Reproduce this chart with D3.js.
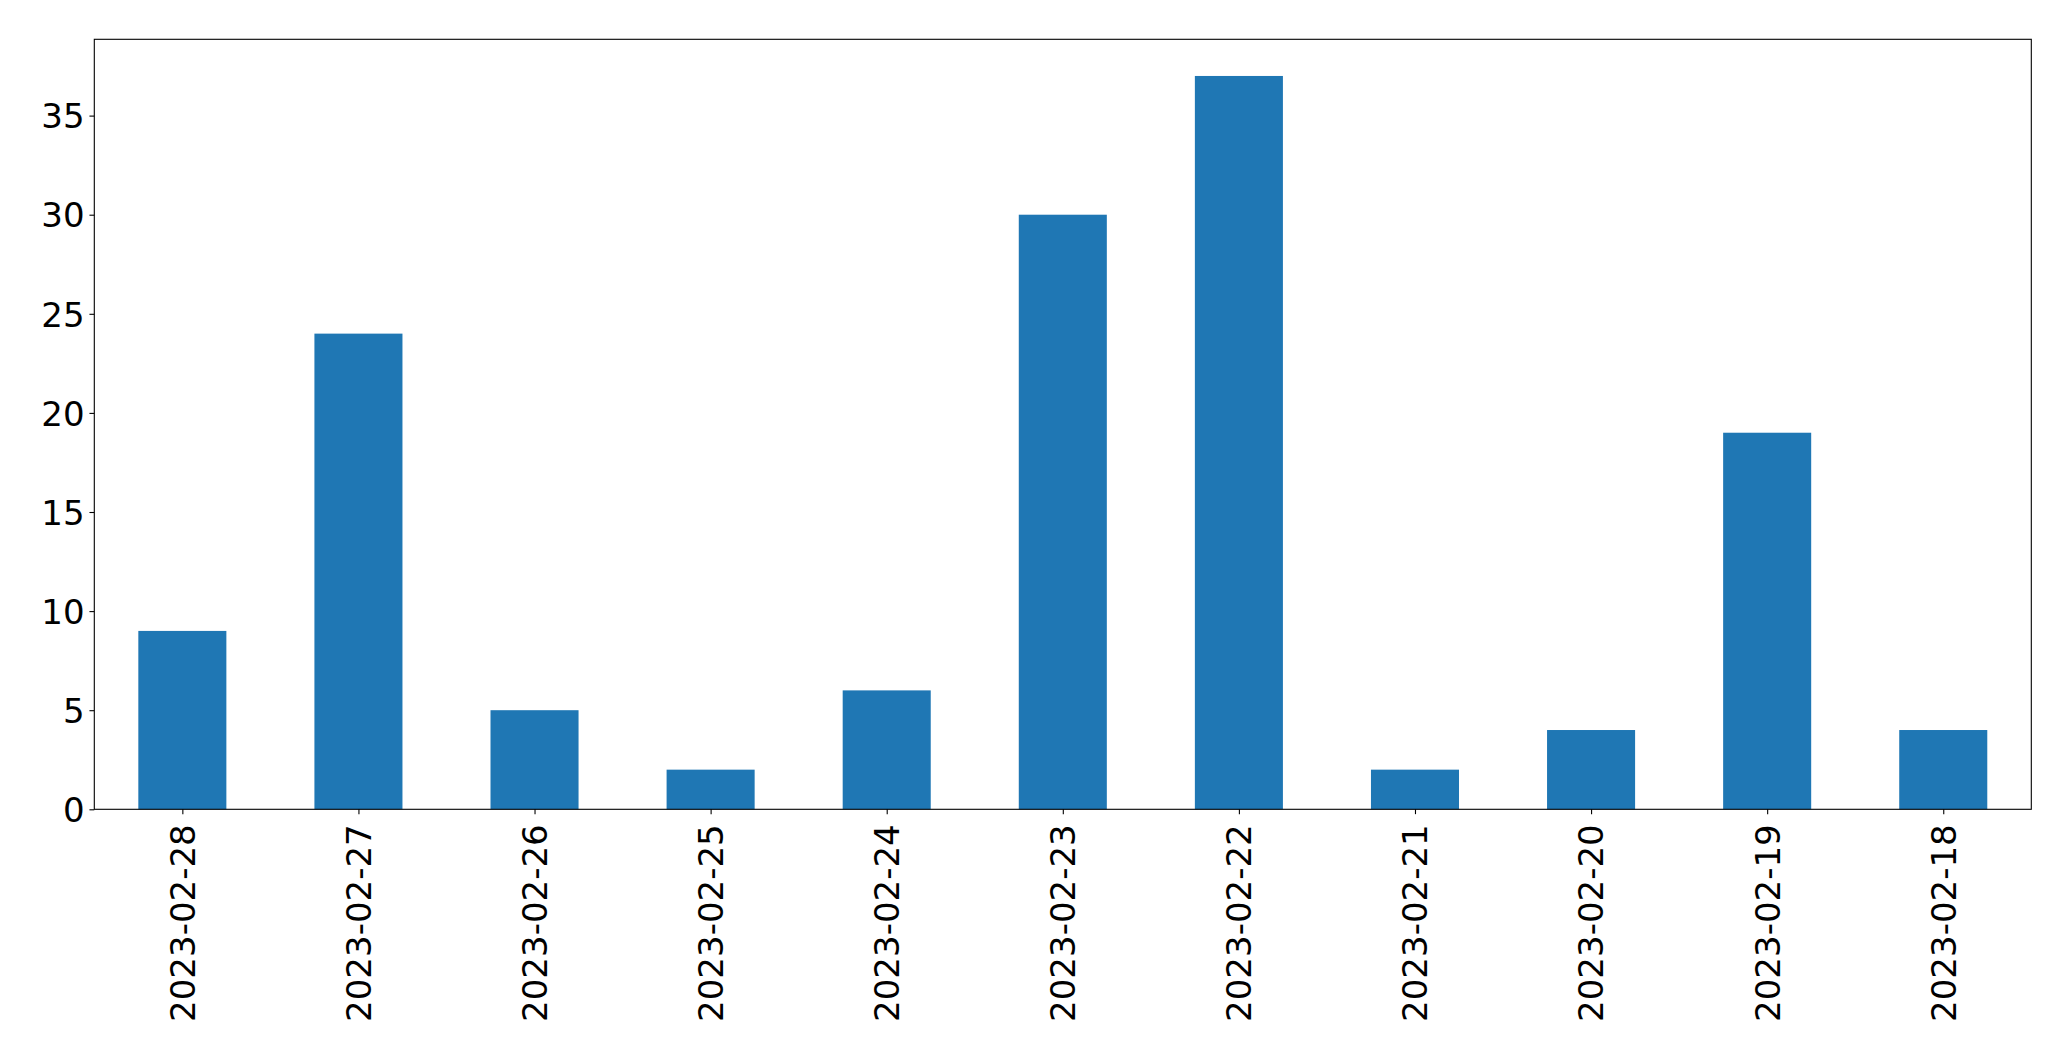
<!DOCTYPE html>
<html><head><meta charset="utf-8">
<script src="https://cdn.jsdelivr.net/npm/d3@7"></script>
<style>body{margin:0;background:#fff}svg{display:block}</style>
</head><body>
<script>
const categories = ["2023-02-28","2023-02-27","2023-02-26","2023-02-25","2023-02-24","2023-02-23","2023-02-22","2023-02-21","2023-02-20","2023-02-19","2023-02-18"];
const values = [9, 24, 5, 2, 6, 30, 37, 2, 4, 19, 4];
const yTicks = [0, 5, 10, 15, 20, 25, 30, 35];

const W = 2071, H = 1061;
const m = {left: 94.3, right: 2031.3, top: 39.3, bottom: 809.3};
const svg = d3.select("body").append("svg").attr("width", W).attr("height", H);
const font = "DejaVu Sans";
const fs = 34;

const x = d3.scaleLinear().domain([-0.5, categories.length - 0.5]).range([m.left, m.right]);
const y = d3.scaleLinear().domain([0, 37 * 1.05]).range([m.bottom, m.top]);
const bw = x(0.25) - x(-0.25);

svg.append("g").selectAll("rect").data(values).join("rect")
  .attr("x", (d, i) => x(i) - bw / 2)
  .attr("width", bw)
  .attr("y", d => y(d))
  .attr("height", d => y(0) - y(d))
  .attr("fill", "#1f77b4");

const yAxis = d3.axisLeft(y).tickValues(yTicks).tickSize(4.86).tickPadding(4.86).tickFormat(d3.format("d"));
const gy = svg.append("g").attr("transform", `translate(${m.left},0)`).call(yAxis);
gy.select(".domain").remove();
gy.selectAll("line").attr("stroke", "#000").attr("stroke-width", 1.1);
gy.selectAll("text").attr("font-family", font).attr("font-size", fs).attr("fill", "#000").attr("dy", "0.36em");

const xAxis = d3.axisBottom(x).tickValues(d3.range(categories.length)).tickSize(4.86).tickFormat(i => categories[i]);
const gx = svg.append("g").attr("transform", `translate(0,${m.bottom})`).call(xAxis);
gx.select(".domain").remove();
gx.selectAll("line").attr("stroke", "#000").attr("stroke-width", 1.1);
gx.selectAll("text")
  .attr("font-family", font).attr("font-size", fs).attr("fill", "#000")
  .attr("text-anchor", "end")
  .attr("transform", "translate(0,15) rotate(-90)")
  .attr("x", 0).attr("y", 0).attr("dy", "0.35em");

svg.append("rect").attr("x", m.left).attr("y", m.top)
  .attr("width", m.right - m.left).attr("height", m.bottom - m.top)
  .attr("fill", "none").attr("stroke", "#000").attr("stroke-width", 1.1);
</script>
</body></html>
